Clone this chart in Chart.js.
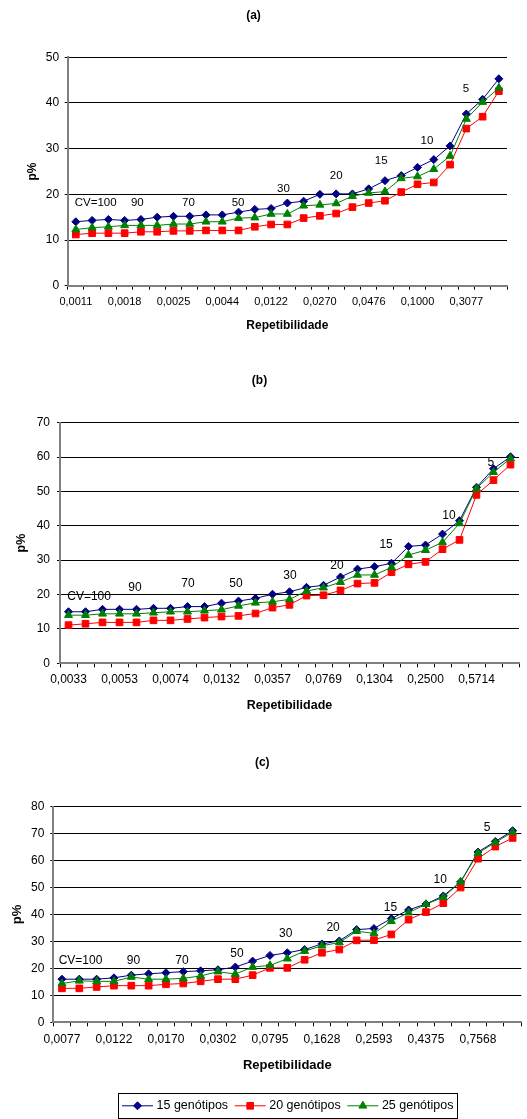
<!DOCTYPE html>
<html>
<head>
<meta charset="utf-8">
<script src="https://cdn.jsdelivr.net/npm/chart.js@4/dist/chart.umd.min.js"></script>
<style>
  html, body { margin: 0; padding: 0; background: #fff; }
  body { width: 527px; height: 1119px; position: relative; overflow: hidden; }
  canvas { position: absolute; left: 0; }
</style>
</head>
<body>
<canvas id="chartA" width="527" height="340" style="top:0px"></canvas>
<canvas id="chartB" width="527" height="370" style="top:350px"></canvas>
<canvas id="chartC" width="527" height="389" style="top:730px"></canvas>
<script>
// Series names (number of genotypes)
const seriesNames = ['15 genótipos', '20 genótipos', '25 genótipos'];

// ---- Panel (a) ----
const repTicksA = ['0,0011', '0,0018', '0,0025', '0,0044', '0,0122', '0,0270', '0,0476', '0,1000', '0,3077'];
const p15A = [14.0, 14.3, 14.5, 14.3, 14.5, 15.0, 15.2, 15.2, 15.5, 15.5, 16.1, 16.7, 16.9, 18.1, 18.5, 20.0, 20.1, 20.1, 21.2, 23.0, 24.1, 25.9, 27.6, 30.6, 37.6, 40.8, 45.3];
const p20A = [11.2, 11.5, 11.5, 11.5, 11.8, 11.8, 12.0, 12.0, 12.1, 12.1, 12.1, 12.9, 13.4, 13.4, 14.8, 15.3, 15.8, 17.2, 18.1, 18.6, 20.5, 22.2, 22.6, 26.5, 34.4, 37.0, 42.6];
const p25A = [12.3, 12.7, 12.9, 13.2, 13.2, 13.2, 13.5, 13.5, 14.0, 14.0, 14.8, 14.9, 15.7, 15.7, 17.5, 17.7, 18.0, 19.6, 20.3, 20.6, 23.5, 23.9, 25.5, 28.4, 36.5, 40.2, 43.3];
const cvTextA = ['CV=100', '90', '70', '50', '30', '20', '15', '10', '5'];
const cvAtA = [1.22, 3.78, 6.92, 9.97, 12.76, 16.0, 18.77, 21.58, 23.98];
const cvLevelA = [18.2, 18.2, 18.2, 18.2, 21.3, 24.0, 27.3, 31.8, 43.0];

// ---- Panel (b) ----
const repTicksB = ['0,0033', '0,0053', '0,0074', '0,0132', '0,0357', '0,0769', '0,1304', '0,2500', '0,5714'];
const p15B = [15.0, 15.0, 15.7, 15.7, 15.7, 16.0, 16.0, 16.5, 16.5, 17.5, 18.1, 18.9, 20.1, 20.8, 22.1, 22.7, 25.1, 27.4, 28.1, 29.1, 34.0, 34.4, 37.6, 41.5, 51.2, 56.6, 60.1];
const p20B = [11.1, 11.5, 11.9, 11.9, 11.9, 12.5, 12.5, 12.9, 13.3, 13.6, 13.8, 14.5, 16.2, 17.0, 19.7, 19.8, 21.2, 23.2, 23.4, 26.5, 28.8, 29.5, 33.2, 35.9, 49.0, 53.3, 57.8];
const p25B = [14.0, 14.0, 14.4, 14.4, 14.4, 14.7, 15.0, 15.0, 15.3, 15.6, 16.7, 17.6, 17.9, 18.6, 21.0, 22.0, 23.6, 25.7, 25.7, 27.9, 31.5, 32.9, 35.2, 40.7, 50.9, 55.6, 59.6];
const cvTextB = ['CV=100', '90', '70', '50', '30', '20', '15', '10', '5'];
const cvAtB = [1.21, 3.91, 7.03, 9.85, 13.03, 15.79, 18.68, 22.38, 24.85];
const cvLevelB = [19.4, 22.0, 23.1, 23.1, 25.5, 28.4, 34.6, 42.9, 58.4];

// ---- Panel (c) ----
const repTicksC = ['0,0077', '0,0122', '0,0170', '0,0302', '0,0795', '0,1628', '0,2593', '0,4375', '0,7568'];
const p15C = [16.0, 16.0, 16.0, 16.5, 17.5, 18.0, 18.4, 18.8, 19.1, 19.5, 20.5, 22.7, 24.8, 25.8, 27.0, 29.1, 30.2, 34.4, 34.8, 38.5, 41.7, 43.9, 46.9, 52.1, 63.2, 67.1, 71.1];
const p20C = [12.6, 12.6, 13.1, 13.6, 13.6, 13.6, 14.1, 14.4, 15.2, 16.0, 16.0, 17.5, 20.2, 20.2, 23.2, 25.8, 27.0, 30.4, 30.5, 32.6, 38.1, 40.9, 44.2, 50.0, 60.7, 65.2, 68.4];
const p25C = [14.4, 15.4, 15.2, 15.2, 16.8, 16.0, 16.0, 16.3, 17.2, 18.8, 17.9, 20.5, 21.1, 23.6, 26.4, 28.4, 29.6, 33.8, 33.0, 37.5, 40.7, 43.8, 46.4, 52.1, 62.8, 66.7, 70.6];
const cvTextC = ['CV=100', '90', '70', '50', '30', '20', '15', '10', '5'];
const cvAtC = [1.07, 4.12, 6.92, 10.1, 12.91, 15.64, 18.95, 21.82, 24.53];
const cvLevelC = [22.8, 22.8, 22.8, 25.3, 32.7, 35.0, 42.4, 53.0, 72.1];

const FONT = '"Liberation Sans", Arial, Helvetica, sans-serif';
Chart.defaults.font.family = FONT;
Chart.defaults.color = '#000';

// 27 categories per panel, a repeatability label on every third one
function categoryLabels(shown, count, every) {
  const out = [];
  for (let i = 0; i < count; i++) out.push(i % every === 0 ? (shown[i / every] || '') : '');
  return out;
}

// CV values written above the curves
const cvPlugin = {
  id: 'cvLabels',
  afterDatasetsDraw(chart, args, opts) {
    const { ctx } = chart;
    const x = chart.scales.x, y = chart.scales.y;
    ctx.save();
    ctx.font = opts.size + 'px ' + FONT;
    ctx.fillStyle = '#000';
    ctx.textAlign = 'center';
    ctx.textBaseline = 'middle';
    opts.text.forEach((t, i) => {
      ctx.fillText(t, x.getPixelForValue(opts.at[i]), y.getPixelForValue(opts.level[i]));
    });
    ctx.restore();
  }
};

// Boxed legend with line + marker samples
const lineLegend = {
  id: 'lineLegend',
  afterDraw(chart, args, opts) {
    const ctx = chart.ctx;
    ctx.save();
    ctx.font = opts.size + 'px ' + FONT;
    const seg = 31, gapText = 3.5, gapItem = 6.6, padX = 4;
    const items = chart.data.datasets.map(d => ({ d, w: ctx.measureText(d.label).width }));
    const total = items.reduce((s, it) => s + seg + gapText + it.w, 0) + gapItem * (items.length - 1) + 2 * padX;
    const cx = (chart.chartArea.left + chart.chartArea.right) / 2;
    const x0 = Math.round(cx - total / 2);
    ctx.strokeStyle = '#000';
    ctx.lineWidth = 1;
    ctx.strokeRect(x0 + 0.5, Math.round(opts.top) + 0.5, Math.round(total), Math.round(opts.height));
    let x = x0 + padX;
    const yc = opts.top + opts.height / 2;
    items.forEach(it => {
      const d = it.d;
      ctx.strokeStyle = d.borderColor;
      ctx.fillStyle = d.backgroundColor;
      ctx.lineWidth = 1;
      ctx.beginPath();
      ctx.moveTo(x, yc);
      ctx.lineTo(x + seg, yc);
      ctx.stroke();
      Chart.helpers.drawPoint(ctx, { pointStyle: d.pointStyle, radius: d.pointRadius, borderWidth: 1, rotation: 0 }, x + seg / 2, yc);
      ctx.fillStyle = '#000';
      ctx.textAlign = 'left';
      ctx.textBaseline = 'middle';
      ctx.fillText(d.label, x + seg + gapText, yc);
      x += seg + gapText + it.w + gapItem;
    });
    ctx.restore();
  }
};

function dataset(label, data, color, style, radius, order) {
  return {
    label, data, order,
    borderColor: color, backgroundColor: color,
    borderWidth: 1,
    pointStyle: style, pointRadius: radius,
    pointBorderColor: color, pointBackgroundColor: color, pointBorderWidth: 1,
    tension: 0, fill: false
  };
}

function makePanel(p) {
  const scaleBottom = p.xTitleY + p.xTitleFs * 0.6;
  const titleLH = p.titleFs * 1.2;
  const plugins = [cvPlugin];
  if (p.legend) plugins.push(lineLegend);
  return new Chart(document.getElementById(p.id), {
    type: 'line',
    data: {
      labels: categoryLabels(p.ticks, p.series[0].length, 3),
      datasets: [
        dataset(seriesNames[0], p.series[0], '#000080', 'rectRot', 4, 3),
        dataset(seriesNames[1], p.series[1], '#FF0000', 'rect', 4.7, 2),
        dataset(seriesNames[2], p.series[2], '#008000', 'triangle', 4.6, 1)
      ]
    },
    options: {
      responsive: false,
      animation: false,
      devicePixelRatio: 1,
      layout: { padding: { left: 0, right: 527 - p.area.right, top: 0, bottom: p.height - scaleBottom } },
      plugins: {
        legend: { display: false },
        tooltip: { enabled: false },
        title: {
          display: true, text: p.title, color: '#000',
          font: { size: p.titleFs, weight: 'bold' },
          padding: { top: p.titleY - titleLH / 2, bottom: p.area.top - p.titleY - titleLH / 2 }
        },
        cvLabels: { text: p.cvText, at: p.cvAt, level: p.cvLevel, size: p.cvFs },
        lineLegend: p.legend || {}
      },
      scales: {
        x: {
          type: 'category',
          offset: true,
          grid: { offset: true, drawOnChartArea: false, drawTicks: true, tickLength: 4, tickColor: '#000', tickWidth: 1 },
          border: { color: '#808080', width: 2 },
          ticks: { autoSkip: false, maxRotation: 0, minRotation: 0, padding: p.xTickPad, color: '#000', font: { size: p.xTickFs } },
          title: { display: true, text: 'Repetibilidade', color: '#000', font: { size: p.xTitleFs, weight: 'bold' }, padding: 0 },
          afterFit(s) { s.height = scaleBottom - p.area.bottom; }
        },
        y: {
          min: 0, max: p.yMax,
          ticks: { stepSize: 10, padding: p.yTickPad, color: '#000', font: { size: p.yTickFs } },
          grid: {
            color: ctx => (ctx.tick && ctx.tick.value === 0) ? 'rgba(0,0,0,0)' : '#000',
            lineWidth: 1, tickLength: 3, tickColor: '#000'
          },
          border: { color: '#808080', width: 2 },
          title: {
            display: true, text: 'p%', color: '#000',
            font: { size: p.yTitleFs, weight: 'bold' },
            padding: { top: p.yTitleX - p.yTitleFs * 0.6, bottom: 0 }
          },
          afterFit(s) { s.width = p.area.left; }
        }
      }
    },
    plugins
  });
}

makePanel({
  id: 'chartA', height: 340, title: '(a)', titleFs: 12, titleY: 16,
  area: { left: 67.7, right: 507, top: 57.3, bottom: 285.7 },
  yMax: 50, ticks: repTicksA, series: [p15A, p20A, p25A],
  cvText: cvTextA, cvAt: cvAtA, cvLevel: cvLevelA, cvFs: 11.5,
  xTickFs: 11, xTickPad: 5.5, yTickFs: 12, yTickPad: 5.5,
  xTitleFs: 12, xTitleY: 326, yTitleFs: 12, yTitleX: 32.5
});

makePanel({
  id: 'chartB', height: 370, title: '(b)', titleFs: 12, titleY: 31,
  area: { left: 60, right: 519, top: 72.7, bottom: 313.3 },
  yMax: 70, ticks: repTicksB, series: [p15B, p20B, p25B],
  cvText: cvTextB, cvAt: cvAtB, cvLevel: cvLevelB, cvFs: 12,
  xTickFs: 12, xTickPad: 5.5, yTickFs: 12, yTickPad: 7,
  xTitleFs: 12.5, xTitleY: 355.7, yTitleFs: 12.5, yTitleX: 22
});

makePanel({
  id: 'chartC', height: 389, title: '(c)', titleFs: 12, titleY: 33,
  area: { left: 53.3, right: 524.5, top: 76.7, bottom: 292.3 },
  yMax: 80, ticks: repTicksC, series: [p15C, p20C, p25C],
  cvText: cvTextC, cvAt: cvAtC, cvLevel: cvLevelC, cvFs: 12,
  xTickFs: 12, xTickPad: 6.5, yTickFs: 12, yTickPad: 6,
  xTitleFs: 13, xTitleY: 335.7, yTitleFs: 13, yTitleX: 17.5,
  legend: { top: 363.3, height: 25, size: 12.5 }
});
</script>
</body>
</html>
